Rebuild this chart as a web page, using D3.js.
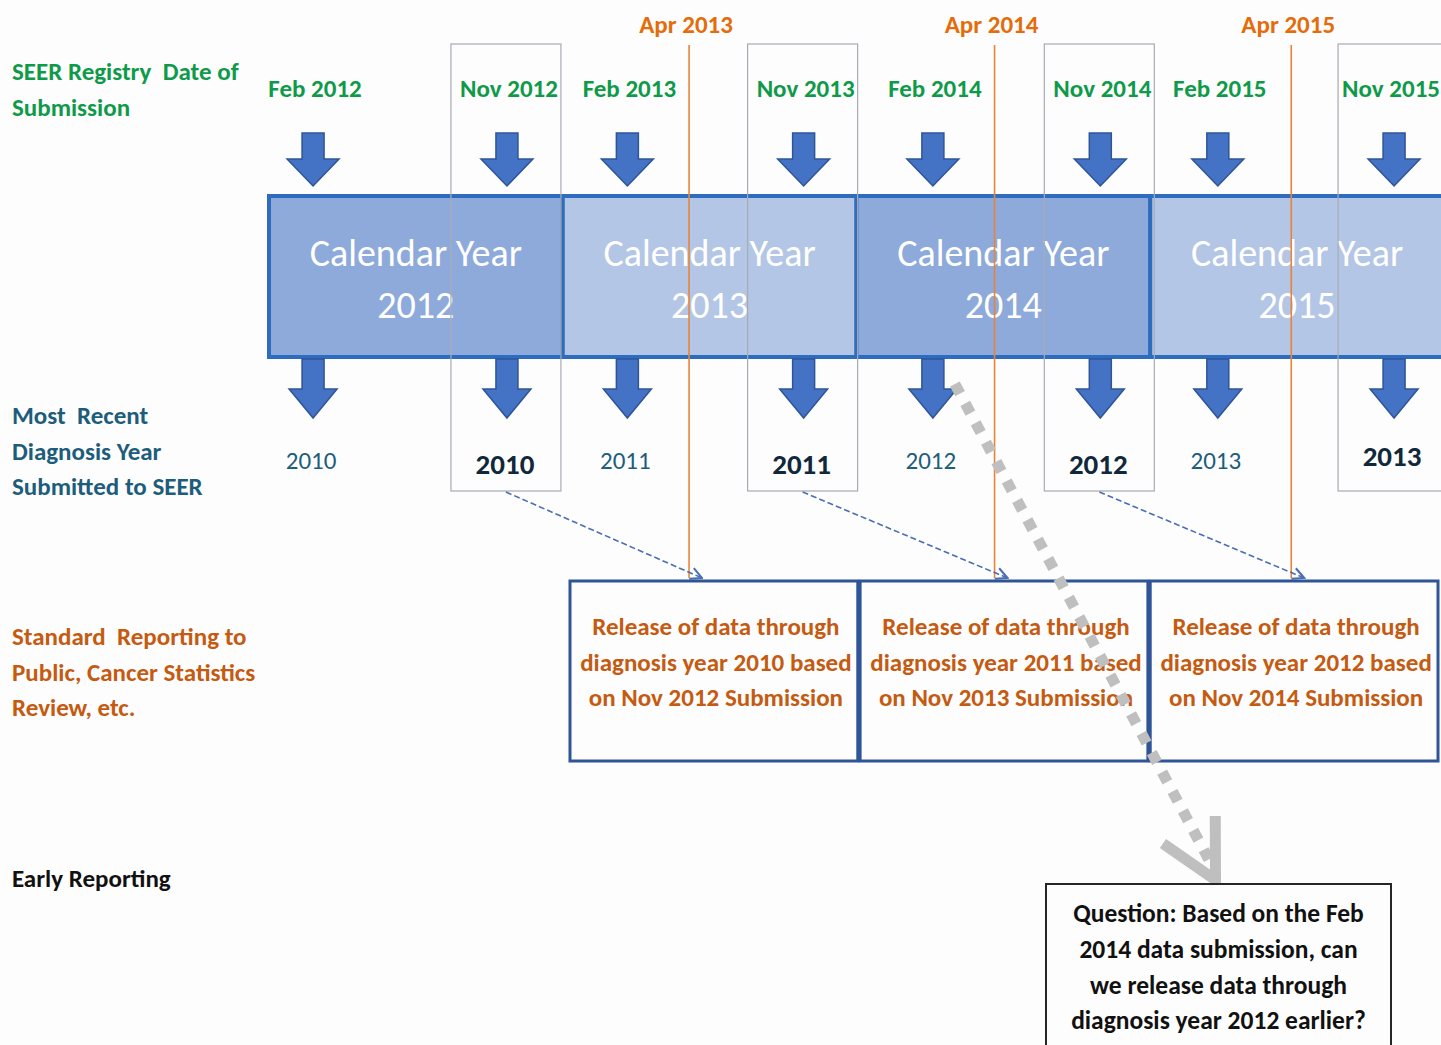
<!DOCTYPE html>
<html>
<head>
<meta charset="utf-8">
<script src="https://cdn.jsdelivr.net/npm/d3@7"></script>
<style>
  body { margin: 0; background: #fdfdfd; }
  text { font-family: Carlito, Lato, sans-serif; white-space: pre; }
</style>
</head>
<body>
<div class="chart"></div>
<script>
/** timeline data (positions in decimal years) */
let calendarYears = [2012, 2013, 2014, 2015];
let submissionLabels = ["Feb 2012", "Nov 2012", "Feb 2013", "Nov 2013", "Feb 2014", "Nov 2014", "Feb 2015", "Nov 2015"];
let submissionTimes = [2012.15, 2012.81, 2013.22, 2013.82, 2014.26, 2014.83, 2015.23, 2015.83];
let diagnosisYears = [2010, 2010, 2011, 2011, 2012, 2012, 2013, 2013];
let isNovember = [false, true, false, true, false, true, false, true];
let aprLabels = ["Apr 2013", "Apr 2014", "Apr 2015"];
let aprTimes = [2013.43, 2014.47, 2015.48];
let releaseYears = [2013, 2014, 2015];
let releaseText = [
    ["Release of data through", "diagnosis year 2010 based", "on Nov 2012 Submission"],
    ["Release of data through", "diagnosis year 2011 based", "on Nov 2013 Submission"],
    ["Release of data through", "diagnosis year 2012 based", "on Nov 2014 Submission"]
];
let rowLabels = [
    { lines: ["SEER Registry  Date of", "Submission"], y: 80, color: "#0f9a4a" },
    { lines: ["Most  Recent", "Diagnosis Year", "Submitted to SEER"], y: 424, color: "#1d5d7c" },
    { lines: ["Standard  Reporting to", "Public, Cancer Statistics", "Review, etc."], y: 645, color: "#c55a11" },
    { lines: ["Early Reporting"], y: 887, color: "#111111" }
];
let questionText = ["Question: Based on the Feb", "2014 data submission, can", "we release data through", "diagnosis year 2012 earlier?"];

/** canvas */
let width = 1441, height = 1045;
let svg = d3.select('.chart').append('svg')
    .attr('width', width)
    .attr('height', height);

let x = d3.scaleLinear().domain([2012, 2016]).range([269, 1444]);
let xRelease = d3.scaleBand().domain(releaseYears).range([570, 1438]).paddingInner(0.008);

let yearTop = 196, yearBottom = 357;
let lineH = 35.5;

/** block arrow pointing down */
function downArrow(cx, top, bottom, shaftW, headW, headH) {
    let p = d3.path();
    p.moveTo(cx - shaftW / 2, top);
    p.lineTo(cx + shaftW / 2, top);
    p.lineTo(cx + shaftW / 2, bottom - headH);
    p.lineTo(cx + headW / 2, bottom - headH);
    p.lineTo(cx, bottom);
    p.lineTo(cx - headW / 2, bottom - headH);
    p.lineTo(cx - shaftW / 2, bottom - headH);
    p.closePath();
    return p.toString();
}

/** calendar year bands */
svg.selectAll('.year')
    .data(calendarYears)
    .enter()
        .append('rect')
        .attr('class', 'year')
        .attr('x', d => x(d))
        .attr('y', yearTop)
        .attr('width', d => x(d + 1) - x(d))
        .attr('height', yearBottom - yearTop)
        .attr('fill', (d, i) => i % 2 === 0 ? '#8eaadb' : '#b4c6e5')
        .attr('stroke', '#2e6cc0')
        .attr('stroke-width', 4);

svg.selectAll('.year-label')
    .data(calendarYears)
    .enter()
        .append('text')
        .attr('class', 'year-label')
        .attr('y', 266)
        .attr('text-anchor', 'middle')
        .attr('fill', '#ffffff')
        .style('font-size', '38px')
        .each(function (d) {
            d3.select(this).append('tspan').attr('x', x(d + 0.5)).text('Calendar Year');
            d3.select(this).append('tspan').attr('x', x(d + 0.5)).attr('dy', 52).text(d);
        });

/** thin outlines round the November submissions */
svg.selectAll('.nov-box')
    .data(submissionTimes.filter((d, i) => isNovember[i]))
    .enter()
        .append('rect')
        .attr('class', 'nov-box')
        .attr('x', d => x(d) - 56)
        .attr('y', 44)
        .attr('width', 110)
        .attr('height', 447)
        .attr('fill', 'none')
        .attr('stroke', '#a8abb4')
        .attr('stroke-width', 1.2);

/** April release lines */
svg.selectAll('.apr-line')
    .data(aprTimes)
    .enter()
        .append('line')
        .attr('class', 'apr-line')
        .attr('x1', d => x(d)).attr('x2', d => x(d))
        .attr('y1', 45).attr('y2', 578)
        .attr('stroke', '#e8843a')
        .attr('stroke-width', 1.6);

svg.selectAll('.apr-label')
    .data(aprTimes)
    .enter()
        .append('text')
        .attr('class', 'apr-label')
        .attr('x', d => x(d) - 3)
        .attr('y', 33)
        .attr('text-anchor', 'middle')
        .attr('fill', '#e46c0a')
        .style('font-size', '25px')
        .style('font-weight', 'bold')
        .text((d, i) => aprLabels[i]);

/** submission labels and arrows */
svg.selectAll('.sub-label')
    .data(submissionTimes)
    .enter()
        .append('text')
        .attr('class', 'sub-label')
        .attr('x', d => x(d) + 2)
        .attr('y', 97)
        .attr('text-anchor', 'middle')
        .attr('fill', '#0f9a4a')
        .style('font-size', '25px')
        .style('font-weight', 'bold')
        .text((d, i) => submissionLabels[i])
        .each(function () {
            // keep the last label inside the page
            let b = this.getBBox();
            if (b.x + b.width > width - 1) {
                d3.select(this).attr('x', +d3.select(this).attr('x') - (b.x + b.width - width + 1));
            }
        });

svg.selectAll('.arrow-top')
    .data(submissionTimes)
    .enter()
        .append('path')
        .attr('class', 'arrow-top')
        .attr('d', d => downArrow(x(d), 133, 186, 22, 52, 27))
        .attr('fill', '#4472c4')
        .attr('stroke', '#2f5597')
        .attr('stroke-width', 1.5);

svg.selectAll('.arrow-bottom')
    .data(submissionTimes)
    .enter()
        .append('path')
        .attr('class', 'arrow-bottom')
        .attr('d', d => downArrow(x(d), 359, 418, 22, 48, 29))
        .attr('fill', '#4472c4')
        .attr('stroke', '#2f5597')
        .attr('stroke-width', 1.5);

svg.selectAll('.diag-label')
    .data(submissionTimes)
    .enter()
        .append('text')
        .attr('class', 'diag-label')
        .attr('x', d => x(d) - 2)
        .attr('y', (d, i) => i === 7 ? 466 : (isNovember[i] ? 474 : 469))
        .attr('text-anchor', 'middle')
        .attr('fill', (d, i) => isNovember[i] ? '#10283a' : '#1d5d7c')
        .style('font-size', (d, i) => isNovember[i] ? '29px' : '25px')
        .style('font-weight', (d, i) => isNovember[i] ? 'bold' : 'normal')
        .text((d, i) => diagnosisYears[i]);

/** dashed links from November submission to the release box */
let defs = svg.append('defs');
defs.append('marker')
    .attr('id', 'open-head')
    .attr('viewBox', '0 0 10 10')
    .attr('refX', 9).attr('refY', 5)
    .attr('markerWidth', 9).attr('markerHeight', 9)
    .attr('orient', 'auto')
    .append('path')
    .attr('d', 'M1,1 L9,5 L1,9')
    .attr('fill', 'none')
    .attr('stroke', '#4a6fb0')
    .attr('stroke-width', 1.4);

let novTimes = submissionTimes.filter((d, i) => isNovember[i]).slice(0, aprTimes.length);
svg.selectAll('.link')
    .data(novTimes)
    .enter()
        .append('line')
        .attr('class', 'link')
        .attr('x1', d => x(d) - 1).attr('y1', 492)
        .attr('x2', (d, i) => x(aprTimes[i]) + 13).attr('y2', 578)
        .attr('stroke', '#4a6fb0')
        .attr('stroke-width', 1.6)
        .attr('stroke-dasharray', '6,3')
        .attr('marker-end', 'url(#open-head)');

/** release boxes */
let relTop = 581, relBottom = 761;
svg.selectAll('.release')
    .data(releaseYears)
    .enter()
        .append('rect')
        .attr('class', 'release')
        .attr('x', d => xRelease(d))
        .attr('y', relTop)
        .attr('width', xRelease.bandwidth())
        .attr('height', relBottom - relTop)
        .attr('fill', '#fdfdfd')
        .attr('stroke', '#2f5597')
        .attr('stroke-width', 3);

svg.selectAll('.release-text')
    .data(releaseYears)
    .enter()
        .append('text')
        .attr('class', 'release-text')
        .attr('y', 635)
        .attr('text-anchor', 'middle')
        .attr('fill', '#c55a11')
        .style('font-size', '25px')
        .style('font-weight', 'bold')
        .each(function (d, i) {
            let cx = xRelease(d) + xRelease.bandwidth() / 2 + 2;
            releaseText[i].forEach(function (t, j) {
                d3.select(this).append('tspan')
                    .attr('x', cx)
                    .attr('dy', j === 0 ? 0 : lineH)
                    .text(t);
            }, this);
        });

/** row labels on the left */
rowLabels.forEach(function (r) {
    let t = svg.append('text')
        .attr('x', 12)
        .attr('y', r.y)
        .attr('fill', r.color)
        .style('font-size', '25px')
        .style('font-weight', 'bold');
    r.lines.forEach(function (l, j) {
        t.append('tspan').attr('x', 12).attr('dy', j === 0 ? 0 : lineH).text(l);
    });
});

/** grey dotted arrow towards the question */
let qLeft = 1046, qRight = 1391, qTop = 884;
let qCx = (qLeft + qRight) / 2;
let start = [x(submissionTimes[4]) + 22, 384];
let tip = [qCx - 3, qTop - 4];
svg.append('line')
    .attr('x1', start[0]).attr('y1', start[1])
    .attr('x2', tip[0]).attr('y2', tip[1] - 8)
    .attr('stroke', '#bfbfbf')
    .attr('stroke-width', 11)
    .attr('stroke-dasharray', '11,11');

let ang = Math.atan2(start[1] - tip[1], start[0] - tip[0]);
let armLen = 64, spread = 0.48;
svg.append('path')
    .attr('d', d3.line()([
        [tip[0] + armLen * Math.cos(ang - spread), tip[1] + armLen * Math.sin(ang - spread)],
        tip,
        [tip[0] + armLen * Math.cos(ang + spread), tip[1] + armLen * Math.sin(ang + spread)]
    ]))
    .attr('fill', 'none')
    .attr('stroke', '#bfbfbf')
    .attr('stroke-width', 11)
    .attr('stroke-linejoin', 'miter');

/** question box */
svg.append('rect')
    .attr('x', qLeft).attr('y', qTop)
    .attr('width', qRight - qLeft).attr('height', 180)
    .attr('fill', '#fdfdfd')
    .attr('stroke', '#262626')
    .attr('stroke-width', 2);

let q = svg.append('text')
    .attr('y', 922)
    .attr('text-anchor', 'middle')
    .attr('fill', '#111111')
    .style('font-size', '25.5px')
    .style('font-weight', 'bold');
questionText.forEach(function (t, j) {
    q.append('tspan').attr('x', qCx).attr('dy', j === 0 ? 0 : lineH + 0.3).text(t);
});
</script>
</body>
</html>
